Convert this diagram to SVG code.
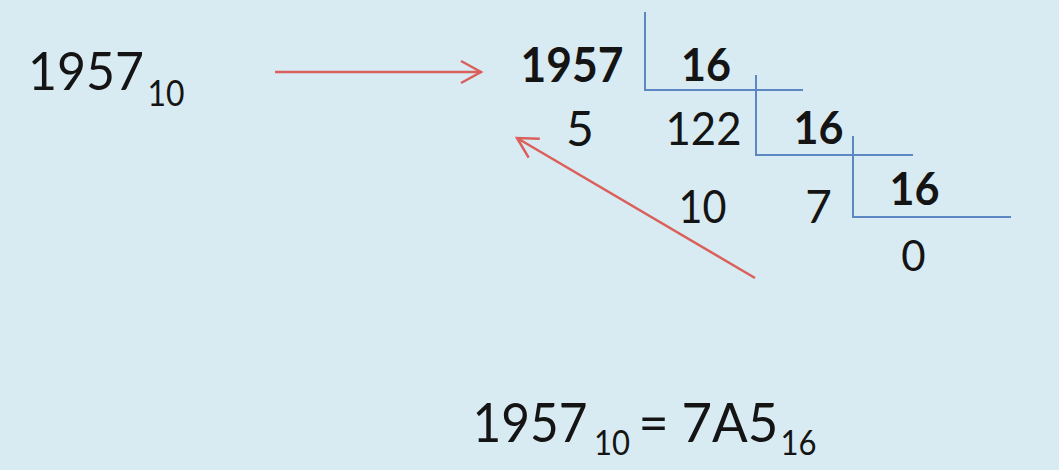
<svg xmlns="http://www.w3.org/2000/svg" width="1059" height="470" viewBox="0 0 1059 470">
  <defs>
    <style>
      .t { font-family: Lato, "Open Sans", sans-serif; fill: #141414; text-anchor: middle; }
      .b { font-weight: bold; }
      .div { stroke: #5d87c2; stroke-width: 2; fill: none; }
      .arr { stroke: #d9605b; stroke-width: 2.5; fill: none; marker-end: url(#head); }
    </style>
    <marker id="head" markerUnits="userSpaceOnUse" markerWidth="30" markerHeight="30" viewBox="-25 -15 30 30" refX="0" refY="0" orient="auto">
      <path d="M-20,-11 L0,0 L-20,11" stroke="#d9605b" stroke-width="2.5" fill="none"/>
    </marker>
  </defs>
  <rect width="1059" height="470" fill="#d9ebf2"/>

  <g id="source">
    <text class="t" x="86" y="90" font-size="53" textLength="116" lengthAdjust="spacingAndGlyphs">1957</text>
    <text class="t" x="166" y="106" font-size="36" textLength="37" lengthAdjust="spacingAndGlyphs">10</text>
  </g>

  <g id="division-lines">
    <path class="div" d="M645,12 V90 H803"/>
    <path class="div" d="M756,75 V155 H913"/>
    <path class="div" d="M853,136 V217 H1011"/>
  </g>

  <g id="dividend"><text class="t b" x="572" y="82" font-size="47" textLength="103" lengthAdjust="spacingAndGlyphs">1957</text></g>
  <g id="divisor1"><text class="t b" x="706" y="81" font-size="46" textLength="50" lengthAdjust="spacingAndGlyphs">16</text></g>
  <g id="remainder1"><text class="t" x="580" y="146" font-size="48">5</text></g>
  <g id="quotient1"><text class="t" x="703.5" y="145" font-size="47" textLength="76" lengthAdjust="spacingAndGlyphs">122</text></g>
  <g id="divisor2"><text class="t b" x="818.5" y="144" font-size="46" textLength="50" lengthAdjust="spacingAndGlyphs">16</text></g>
  <g id="remainder2"><text class="t" x="702.5" y="223" font-size="47" textLength="48" lengthAdjust="spacingAndGlyphs">10</text></g>
  <g id="quotient2"><text class="t" x="818.5" y="223" font-size="46">7</text></g>
  <g id="divisor3"><text class="t b" x="914.5" y="205" font-size="45" textLength="50" lengthAdjust="spacingAndGlyphs">16</text></g>
  <g id="quotient3"><text class="t" x="913.5" y="271" font-size="42">0</text></g>

  <g id="result">
    <text class="t" x="530" y="442" font-size="54" textLength="115" lengthAdjust="spacingAndGlyphs">1957</text>
    <text class="t" x="612" y="455" font-size="35" textLength="36" lengthAdjust="spacingAndGlyphs">10</text>
    <text class="t" x="653.5" y="442" font-size="52">=</text>
    <text class="t" x="730" y="442" font-size="54" textLength="97" lengthAdjust="spacingAndGlyphs">7A5</text>
    <text class="t" x="798.5" y="455" font-size="35" textLength="36" lengthAdjust="spacingAndGlyphs">16</text>
  </g>

  <g id="connectors">
    <line class="arr" x1="275" y1="72" x2="481" y2="72"/>
    <line class="arr" x1="755" y1="278" x2="517" y2="138"/>
  </g>
</svg>
